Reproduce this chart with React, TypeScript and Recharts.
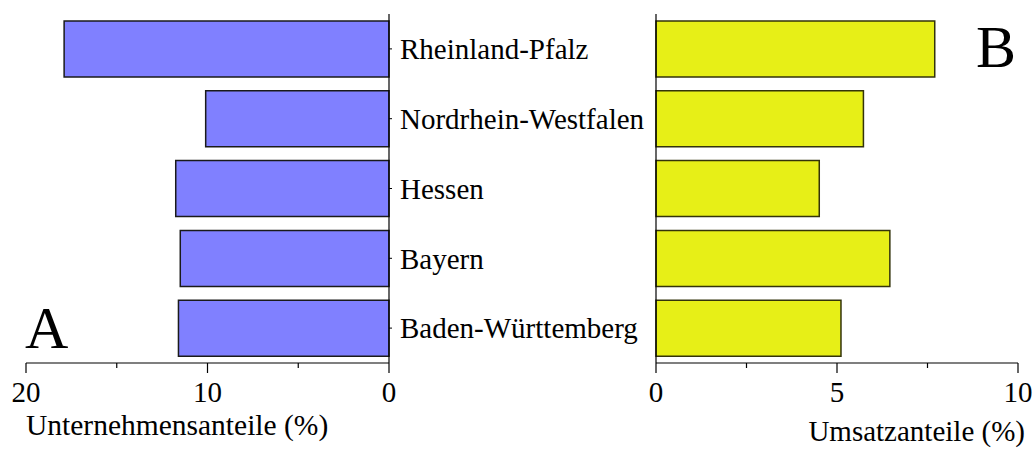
import { BarChart, Bar, XAxis, YAxis } from 'recharts'

const states = ['Rheinland-Pfalz', 'Nordrhein-Westfalen', 'Hessen', 'Bayern', 'Baden-Württemberg']
const unternehmensAnteile = [17.9, 10.1, 11.75, 11.5, 11.6]
const umsatzAnteile = [7.7, 5.73, 4.51, 6.46, 5.11]

const leftTicks = [0, 5, 10, 15, 20]
const leftMinor = [5, 15]
const rightTicks = [0, 2.5, 5, 7.5, 10]
const rightMinor = [2.5, 7.5]

const FONT = 'Liberation Serif, serif'

const leftData = states.map((s, i) => ({ state: s, value: unternehmensAnteile[i] }))
const rightData = states.map((s, i) => ({ state: s, value: umsatzAnteile[i] }))

// custom tick so the in-between ticks are shorter and unlabeled
function makeTick(minor: number[]) {
  return (props: any) => {
    const { x, y, payload } = props
    const isMinor = minor.includes(payload.value)
    return (
      <g>
        <line x1={x} x2={x} y1={y} y2={y + (isMinor ? 5 : 10)} stroke="#000" strokeWidth={1.2} />
        {!isMinor && (
          <text x={x} y={y + 39} textAnchor="middle" fontFamily={FONT} fontSize={29} fill="#000">
            {payload.value}
          </text>
        )}
      </g>
    )
  }
}

export default function App() {
  return (
    <div style={{ position: 'absolute', left: 0, top: 0, width: 1035, height: 450, background: '#fff' }}>
      <div style={{ position: 'absolute', left: 0, top: 0 }}>
        <BarChart
          width={655}
          height={450}
          data={leftData}
          layout="vertical"
          barCategoryGap="10%"
          margin={{ top: 14, right: 0, bottom: 0, left: 26 }}
        >
          <XAxis
            type="number"
            domain={[0, 20]}
            ticks={leftTicks}
            reversed
            height={87}
            tickSize={0}
            tickMargin={0}
            tickLine={false}
            tick={makeTick(leftMinor)}
            axisLine={{ stroke: '#000', strokeWidth: 1.2 }}
          />
          <YAxis
            type="category"
            dataKey="state"
            orientation="right"
            width={266}
            tickSize={3}
            tickMargin={8}
            tickLine={{ stroke: '#000' }}
            axisLine={{ stroke: '#000', strokeWidth: 1.2 }}
            tick={{ fill: '#000', fontSize: 29, fontFamily: FONT }}
          />
          <Bar dataKey="value" fill="#8080ff" stroke="#1a1a1a" strokeWidth={1.5} isAnimationActive={false} />
        </BarChart>
      </div>
      <div style={{ position: 'absolute', left: 640, top: 0 }}>
        <BarChart
          width={395}
          height={450}
          data={rightData}
          layout="vertical"
          barCategoryGap="10%"
          margin={{ top: 14, right: 17, bottom: 0, left: 0 }}
        >
          <XAxis
            type="number"
            domain={[0, 10]}
            ticks={rightTicks}
            height={87}
            tickSize={0}
            tickMargin={0}
            tickLine={false}
            tick={makeTick(rightMinor)}
            axisLine={{ stroke: '#000', strokeWidth: 1.2 }}
          />
          <YAxis
            type="category"
            dataKey="state"
            width={16}
            tickSize={3}
            tick={false}
            tickLine={{ stroke: '#000' }}
            axisLine={{ stroke: '#000', strokeWidth: 1.2 }}
          />
          <Bar dataKey="value" fill="#e7ef17" stroke="#33330a" strokeWidth={1.5} isAnimationActive={false} />
        </BarChart>
      </div>
      <svg width={1035} height={450} style={{ position: 'absolute', left: 0, top: 0, pointerEvents: 'none' }}>
        <text x={26} y={435} fontFamily={FONT} fontSize={29.5} fill="#000">
          Unternehmensanteile (%)
        </text>
        <text x={1025} y={441} textAnchor="end" fontFamily={FONT} fontSize={29} fill="#000">
          Umsatzanteile (%)
        </text>
        <text x={25} y={348} fontFamily={FONT} fontSize={60} fill="#000">
          A
        </text>
        <text x={976} y={67} fontFamily={FONT} fontSize={60} fill="#000">
          B
        </text>
      </svg>
    </div>
  )
}
